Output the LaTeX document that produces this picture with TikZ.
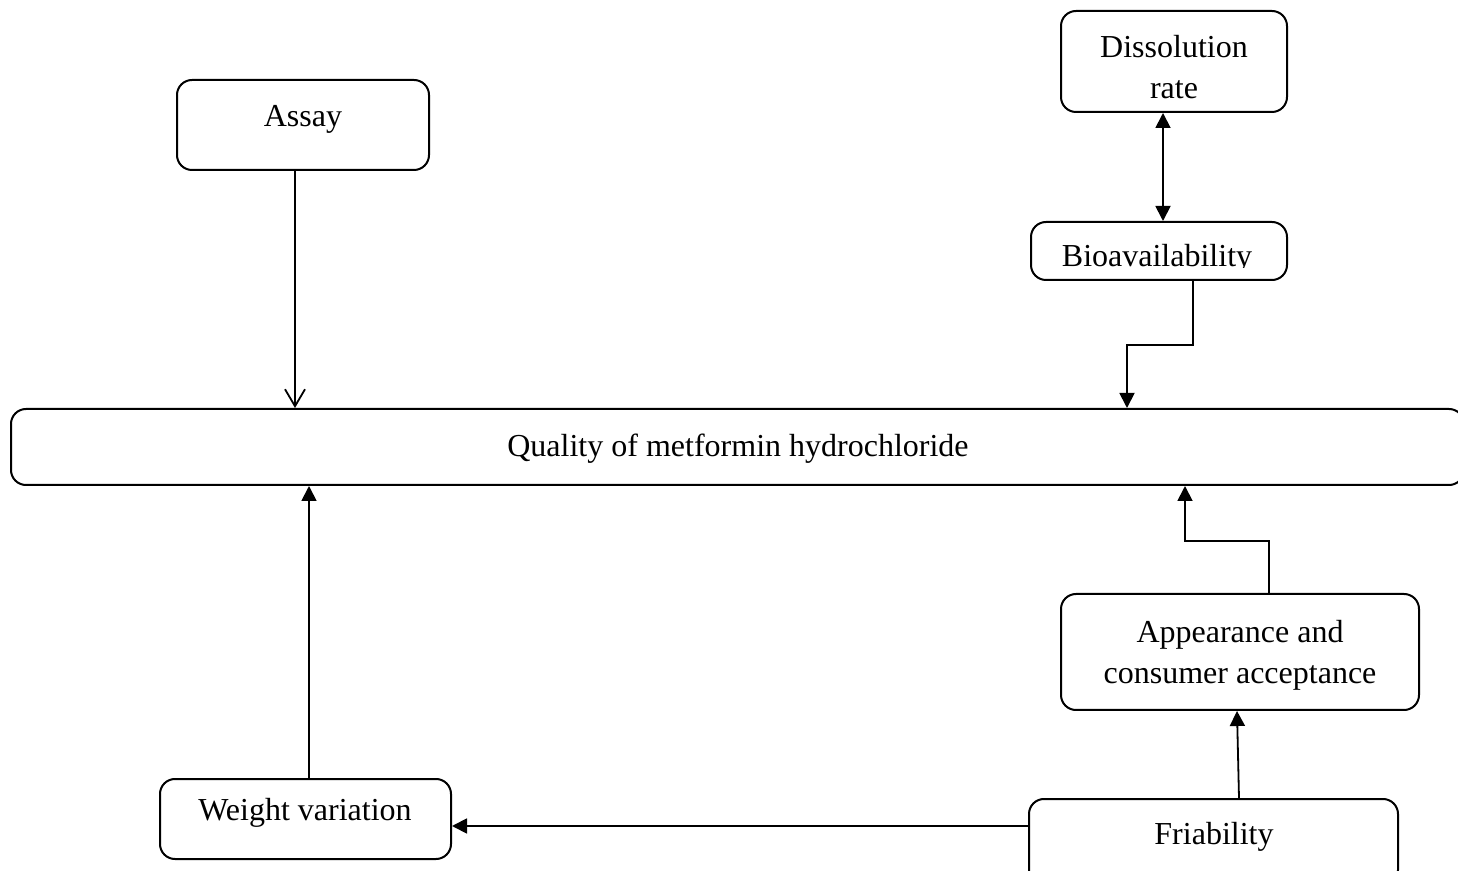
\documentclass[tikz,border=0pt]{standalone}
\usepackage{fontspec}
\setmainfont{Liberation Serif}
\usetikzlibrary{arrows.meta,fit}
\begin{document}
\begin{tikzpicture}[x=0.5pt,y=-0.5pt,
  box/.style={draw,line width=1pt,rounded corners=7.5pt,inner sep=0pt},
  lbl/.style={anchor=base,inner sep=0pt,font=\fontsize{16}{20}\selectfont},
  conn/.style={line width=0.9pt},
  tri/.style={conn,-{Triangle[length=7.5pt,width=7.5pt]}},
  barb/.style={conn,-{Straight Barb[length=8.5pt,width=10pt]}}
]
\useasboundingbox (0,0) rectangle (1458,871);
% boxes
\node[box,fit={(1061,11)(1287,112)}] (dis) {};
\node[box,fit={(177,80)(429,170)}] (assay) {};
\node[box,fit={(1031,222)(1287,280)}] (bio) {};
\node[box,fit={(11,409)(1464,485)}] (main) {};
\node[box,fit={(1061,594)(1419,710)}] (app) {};
\node[box,fit={(160,779)(451,859)}] (wv) {};
\node[box,fit={(1029,799)(1398,885)}] (fri) {};
% texts
\node[lbl] (disA) at (1174,58) {Dissolution};
\node[lbl] (disB) at (1174,99) {rate};
\node[lbl] (assayt) at (303,127) {Assay};
\begin{scope}
  \clip (1031,222) rectangle (1287,268);
  \node[lbl] (biot) at (1157,267) {Bioavailability};
\end{scope}
\node[lbl] (maint) at (738,457) {Quality of metformin hydrochloride};
\node[lbl] (appA) at (1240,643) {Appearance and};
\node[lbl] (appB) at (1240,683) {consumer acceptance};
\node[lbl] (wvt) at (305,820) {Weight variation};
\node[lbl] (frit) at (1214,844) {Friability};
% turning points
\coordinate (bturn) at (1127,345);
\coordinate (aturn) at (1185,541);
\coordinate (fy) at (0,826);
% connectors
\draw[barb] ([xshift=-4pt]assay.south) -- ([xshift=-4pt]assay.south |- main.north);
\draw[conn,{Triangle[length=7.5pt,width=7.5pt]}-{Triangle[length=7.5pt,width=7.5pt]}] ([xshift=-5.5pt]dis.south) -- ([xshift=-5.5pt]dis.south |- bio.north);
\draw[tri] ([xshift=17pt]bio.south) |- (bturn) -- (bturn |- main.north);
\draw[tri] ([xshift=1.75pt]wv.north) -- ([xshift=1.75pt]wv.north |- main.south);
\draw[tri] ([xshift=14.5pt]app.north) |- (aturn) -- (aturn |- main.south);
\draw[tri] ([xshift=12.75pt]fri.north) -- ([xshift=-1.5pt]app.south);
\draw[tri] (fri.west |- fy) -- (wv.east |- fy);
\end{tikzpicture}
\end{document}
